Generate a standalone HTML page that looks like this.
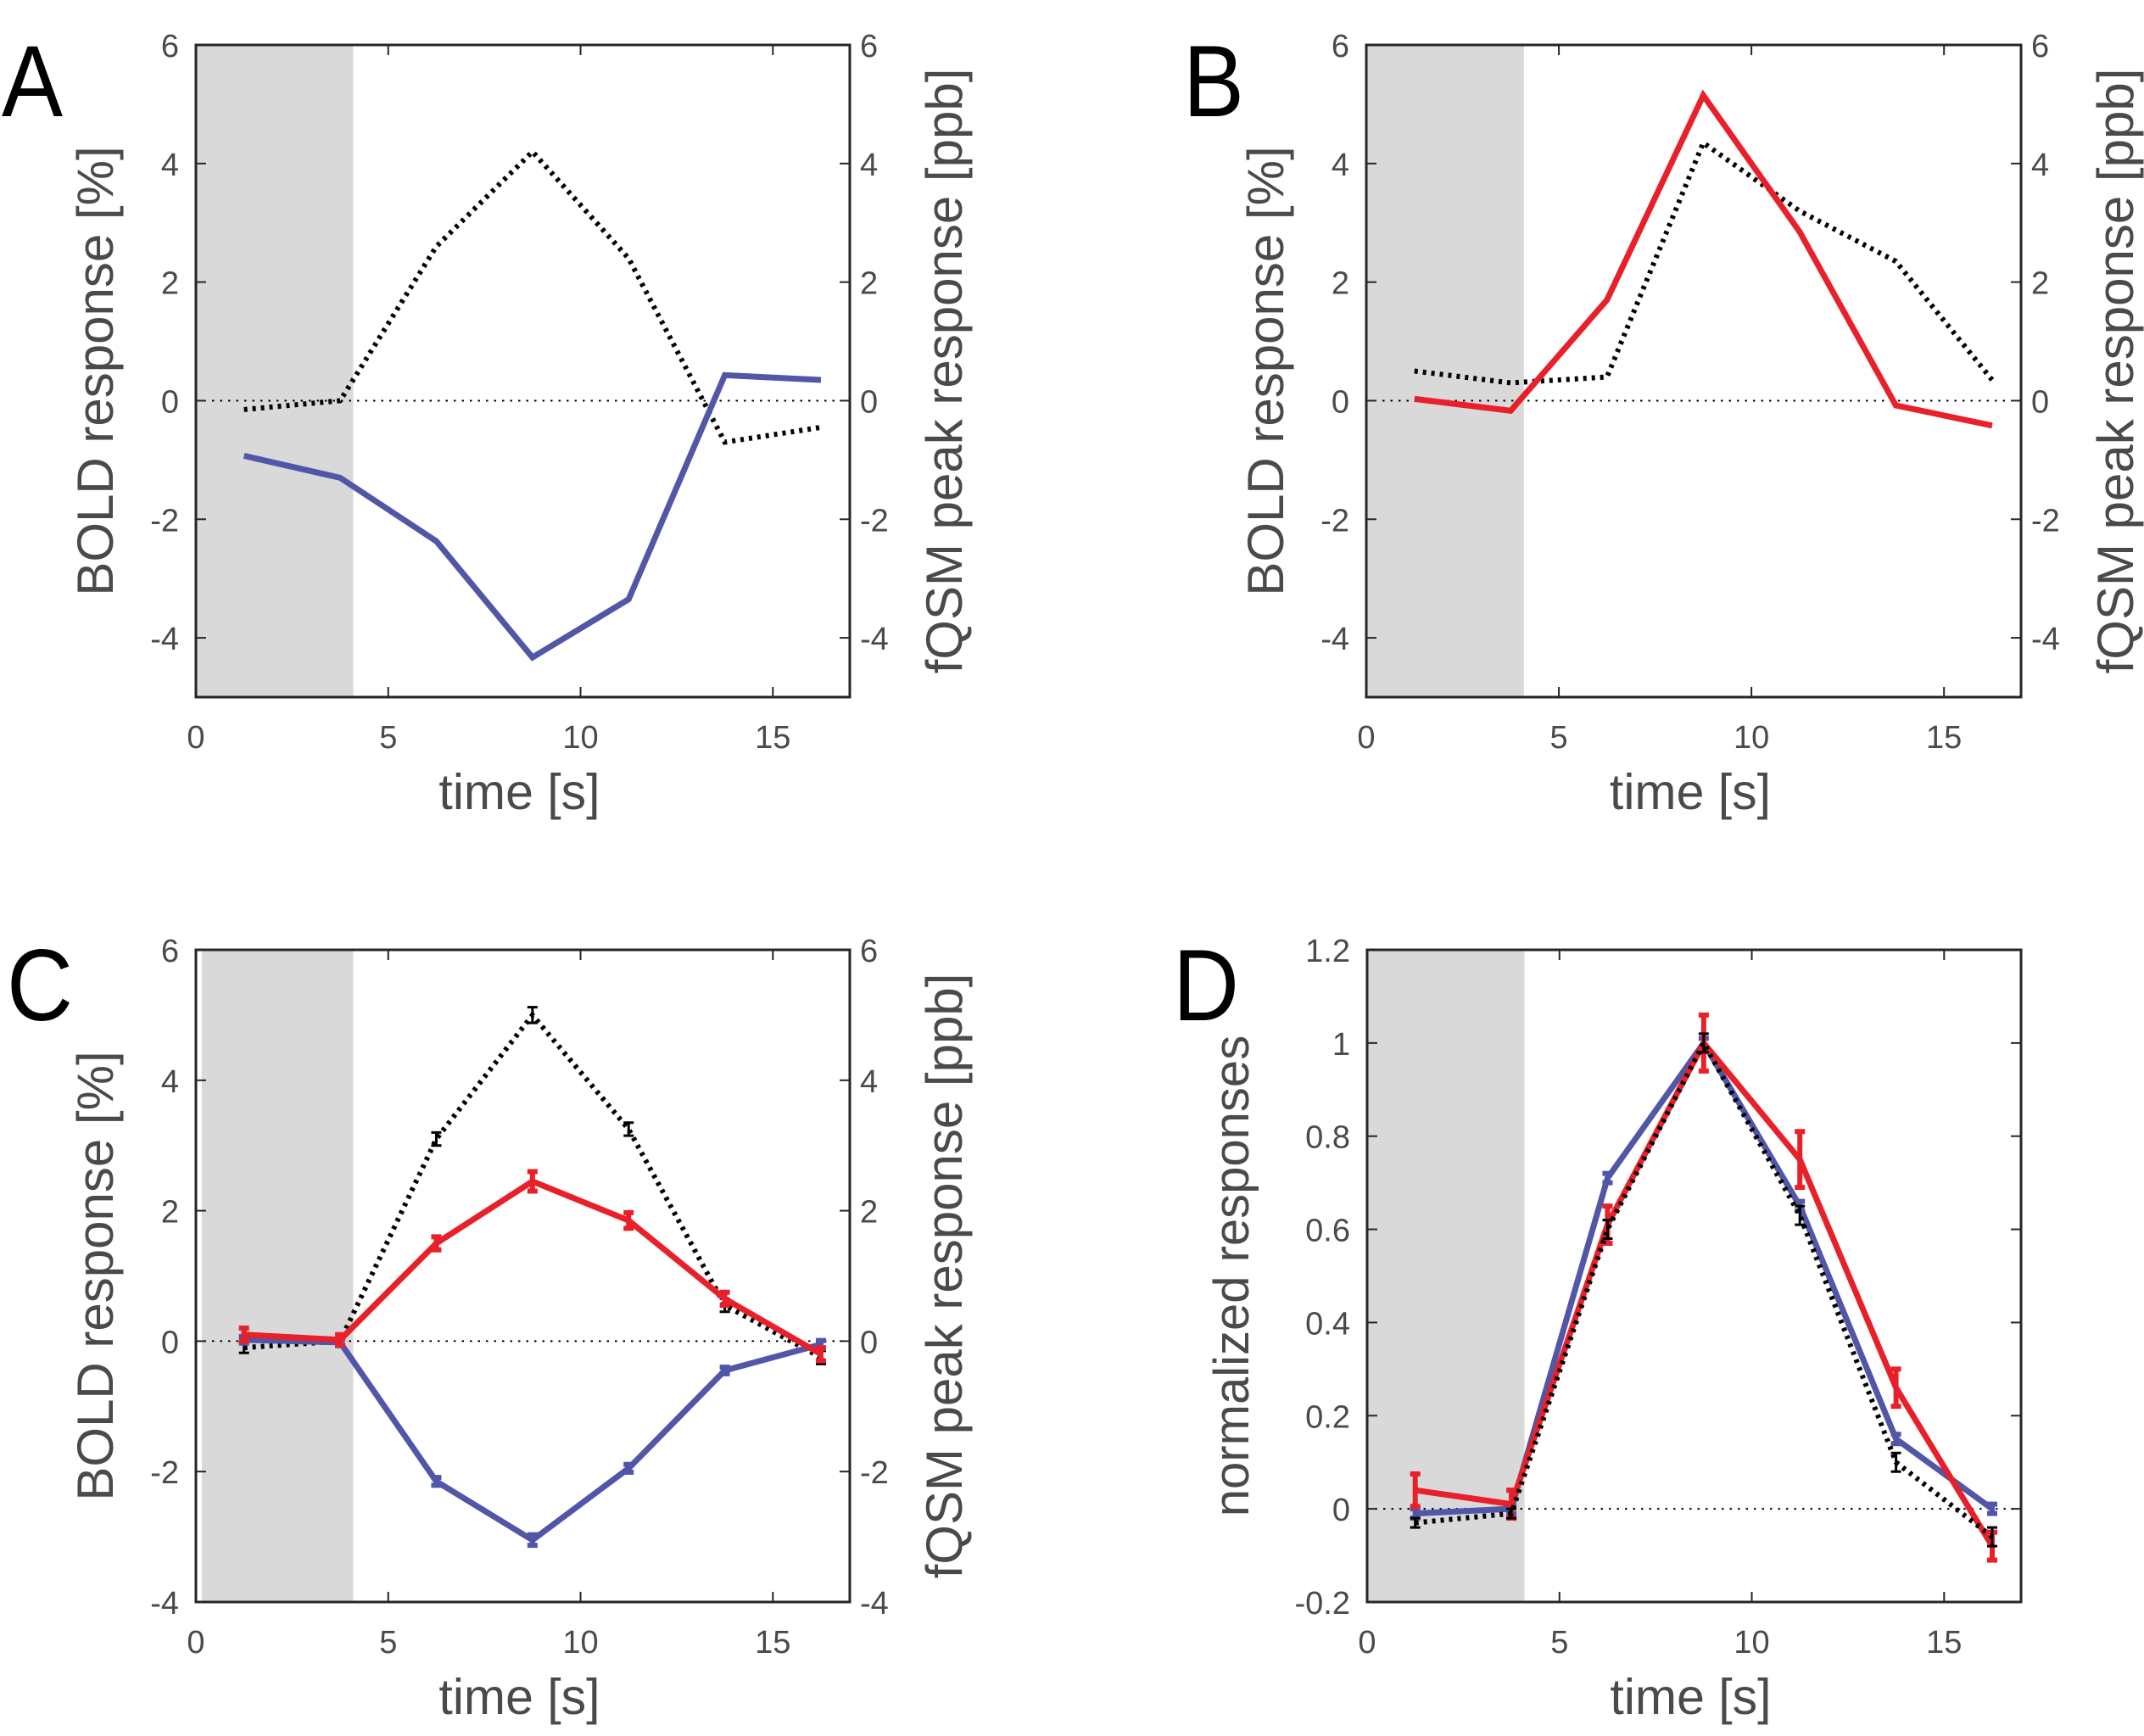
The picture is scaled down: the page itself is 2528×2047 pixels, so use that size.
<!DOCTYPE html>
<html><head><meta charset="utf-8"><style>
html,body{margin:0;padding:0;background:#fff;}
svg{display:block;font-family:"Liberation Sans",sans-serif;}
</style></head><body>
<svg id="fig" width="2528" height="2047" viewBox="0 0 2528 2047" xmlns="http://www.w3.org/2000/svg"></svg>
<script>
const times = [1.25, 3.75, 6.25, 8.75, 11.25, 13.75, 16.25];
const aBlue = [-0.93, -1.3, -2.37, -4.33, -3.35, 0.43, 0.35];
const aDot = [-0.15, 0.0, 2.6, 4.2, 2.4, -0.7, -0.45];
const bRed = [0.03, -0.17, 1.7, 5.15, 2.85, -0.08, -0.42];
const bDot = [0.5, 0.3, 0.4, 4.35, 3.2, 2.35, 0.35];
const cRed = [0.1, 0.02, 1.5, 2.45, 1.85, 0.65, -0.2];
const cRedErr = [0.1, 0.08, 0.1, 0.15, 0.12, 0.1, 0.1];
const cBlue = [0.02, -0.02, -2.15, -3.05, -1.95, -0.45, -0.05];
const cBlueErr = [0.05, 0.05, 0.06, 0.08, 0.06, 0.05, 0.06];
const cDot = [-0.1, 0.0, 3.1, 5.0, 3.25, 0.55, -0.25];
const cDotErr = [0.08, 0.05, 0.1, 0.12, 0.1, 0.1, 0.1];
const dRed = [0.04, 0.01, 0.61, 1.0, 0.75, 0.26, -0.08];
const dRedErr = [0.035, 0.03, 0.04, 0.06, 0.06, 0.04, 0.03];
const dBlue = [-0.01, 0.0, 0.71, 1.0, 0.65, 0.15, 0.0];
const dBlueErr = [0.01, 0.01, 0.01, 0.01, 0.01, 0.01, 0.01];
const dDot = [-0.03, -0.01, 0.6, 1.0, 0.63, 0.1, -0.06];
const dDotErr = [0.01, 0.01, 0.02, 0.02, 0.02, 0.02, 0.02];
const xTicks = [0, 5, 10, 15];
const yTicksAB = [-4, -2, 0, 2, 4, 6];
const yTicksC = [-4, -2, 0, 2, 4, 6];
const yTicksD = [-0.2, 0, 0.2, 0.4, 0.6, 0.8, 1, 1.2];
const yLabelsD = ["-0.2", "0", "0.2", "0.4", "0.6", "0.8", "1", "1.2"];

const NS = "http://www.w3.org/2000/svg";
const svg = document.getElementById('fig');
function mk(tag, attrs, parent, text) {
  const e = document.createElementNS(NS, tag);
  for (const k in attrs) e.setAttribute(k, attrs[k]);
  if (text !== undefined) e.textContent = text;
  (parent || svg).appendChild(e);
  return e;
}
const BLUE = "#5156a6", RED = "#e8202a", TXT = "#4a4a4a";

function panel(o) {
  const g = mk('g', {});
  
  
  const X = v => o.L + (v - 0) / 17 * (o.R - o.L);
  const Y = v => o.B - (v - o.ymin) / (o.ymax - o.ymin) * (o.B - o.T);
  const sx = o.shadeStart !== undefined ? X(o.shadeStart) : o.L;
  const shade = mk('rect', {x: sx, y: o.T, width: X(4.09) - sx, height: o.B - o.T, fill: '#d9d9d9'}, g);
  
  
  const zl = mk('line', {x1: o.L, x2: o.R, y1: Y(0), y2: Y(0), stroke: '#000', 'stroke-width': 2, 'stroke-dasharray': '2.5 7'}, g);
  
  
  o.series.forEach(s => {
    const pts = times.map((t, i) => X(t) + ',' + Y(s.vals[i])).join(' ');
    const pl = mk('polyline', {points: pts, fill: 'none', stroke: s.color, 'stroke-width': s.dot ? 6 : 7, 'stroke-linejoin': 'miter', 'stroke-dasharray': s.dot ? '4 6' : 'none'}, g);
    
    
    if (s.err) {
      times.forEach((t, i) => {
        const x = X(t), y1 = Y(s.vals[i] + s.err[i]), y2 = Y(s.vals[i] - s.err[i]);
        const eg = mk('path', {d: `M${x},${y1}V${y2}M${x-6},${y1}H${x+6}M${x-6},${y2}H${x+6}`, stroke: s.color, 'stroke-width': s.dot ? 3 : 6, fill: 'none'}, g);
        
        
      });
    }
  });
  const box = mk('rect', {x: o.L, y: o.T, width: o.R - o.L, height: o.B - o.T, fill: 'none', stroke: '#262626', 'stroke-width': 3}, g);
  
  
  xTicks.forEach(v => {
    const x = X(v);
    mk('line', {x1: x, x2: x, y1: o.B, y2: o.B - 12, stroke: '#262626', 'stroke-width': 2}, g);
    mk('line', {x1: x, x2: x, y1: o.T, y2: o.T + 12, stroke: '#262626', 'stroke-width': 2}, g);
    const t = mk('text', {x: x, y: o.B + 60, 'font-size': 38, fill: TXT, 'text-anchor': 'middle'}, g, String(v));
    
    
  });
  o.yticks.forEach((v, i) => {
    const y = Y(v);
    mk('line', {x1: o.L, x2: o.L + 12, y1: y, y2: y, stroke: '#262626', 'stroke-width': 2}, g);
    mk('line', {x1: o.R, x2: o.R - 12, y1: y, y2: y, stroke: '#262626', 'stroke-width': 2}, g);
    const lab = o.ylabels ? o.ylabels[i] : String(v);
    const t = mk('text', {x: o.L - 20, y: y + 14, 'font-size': 38, fill: TXT, 'text-anchor': 'end'}, g, lab);
    
    
    if (o.right) {
      const t2 = mk('text', {x: o.R + 12, y: y + 14, 'font-size': 38, fill: TXT, 'text-anchor': 'start'}, g, lab);
      
      
    }
  });
  const xt = mk('text', {x: (o.L + o.R) / 2 - 4, y: o.B + 132, 'font-size': 59, fill: TXT, 'text-anchor': 'middle'}, g, 'time [s]');
  
  
  const cy = (o.T + o.B) / 2;
  const yt = mk('text', {x: 0, y: 0, 'font-size': o.ylSize, fill: TXT, 'text-anchor': 'middle', transform: `translate(${o.L - o.ylOff},${cy}) rotate(-90)`}, g, o.ylabel);
  
  
  if (o.right) {
    const rt = mk('text', {x: 0, y: 0, 'font-size': 60, fill: TXT, 'text-anchor': 'middle', transform: `translate(${o.R + 132},${cy}) rotate(-90)`}, g, 'fQSM peak response [ppb]');
    
    
  }
  const pl = mk('text', {x: o.lx, y: o.ly, 'font-size': 120, fill: '#000', transform: `translate(${o.lx},${o.ly}) scale(0.9,1) translate(${-o.lx},${-o.ly})`}, g, o.id);
  
  
}

panel({id: 'A', L: 231, R: 1002, T: 53, B: 822, ymin: -5, ymax: 6, yticks: yTicksAB, right: true, ylabel: 'BOLD response [%]', ylSize: 60, ylOff: 98, lx: 2, ly: 137,
  series: [{name: 'fqsm-dotted-line', vals: aDot, color: '#000', dot: true}, {name: 'bold-blue-line', vals: aBlue, color: BLUE}]});
panel({id: 'B', L: 1611, R: 2383, T: 53, B: 822, ymin: -5, ymax: 6, yticks: yTicksAB, right: true, ylabel: 'BOLD response [%]', ylSize: 60, ylOff: 98, lx: 1395, ly: 137,
  series: [{name: 'fqsm-dotted-line', vals: bDot, color: '#000', dot: true}, {name: 'bold-red-line', vals: bRed, color: RED}]});
panel({id: 'C', L: 231, R: 1002, T: 1120, B: 1889, ymin: -4, ymax: 6, yticks: yTicksC, right: true, ylabel: 'BOLD response [%]', ylSize: 60, ylOff: 98, lx: 8, ly: 1203, shadeStart: 0.15,
  series: [{name: 'fqsm-dotted-line', vals: cDot, err: cDotErr, color: '#000', dot: true}, {name: 'bold-blue-line', vals: cBlue, err: cBlueErr, color: BLUE}, {name: 'bold-red-line', vals: cRed, err: cRedErr, color: RED}]});
panel({id: 'D', L: 1612, R: 2383, T: 1120, B: 1889, ymin: -0.2, ymax: 1.2, yticks: yTicksD, ylabels: yLabelsD, right: false, ylabel: 'normalized responses', ylSize: 58, ylOff: 140, lx: 1383, ly: 1203,
  series: [{name: 'blue-normalized-line', vals: dBlue, err: dBlueErr, color: BLUE}, {name: 'red-normalized-line', vals: dRed, err: dRedErr, color: RED}, {name: 'fqsm-dotted-line', vals: dDot, err: dDotErr, color: '#000', dot: true}]});
</script>
</body></html>
